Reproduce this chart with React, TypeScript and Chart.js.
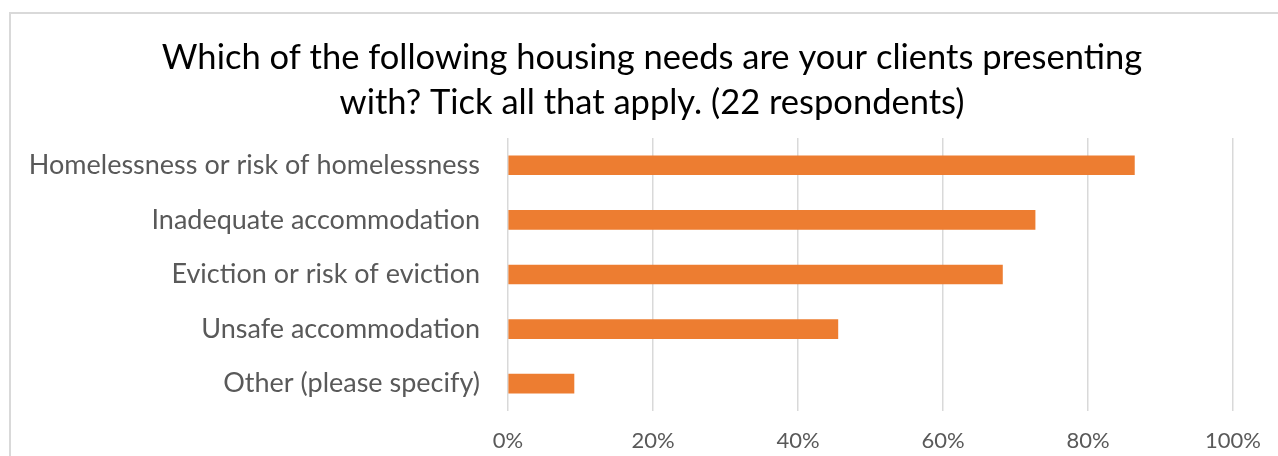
import React, { useEffect, useRef } from "react";
import { Chart, registerables } from "chart.js";

Chart.register(...registerables);

const categories: string[] = [
  "Homelessness or risk of homelessness",
  "Inadequate accommodation",
  "Eviction or risk of eviction",
  "Unsafe accommodation",
  "Other (please specify)",
];
const values: number[] = [86.4, 72.7, 68.2, 45.5, 9.1];
const titleLines: string[] = [
  "Which of the following housing needs are your clients presenting",
  "with? Tick all that apply. (22 respondents)",
];
const tickMax = 100;
const tickStep = 20;

const FONT = "Lato, 'Open Sans', sans-serif";

const titleShift = {
  id: "titleShift",
  afterLayout(chart: any) {
    const t = chart.titleBlock;
    if (t) {
      t.left = 71;
      t.width = t.right - t.left;
    }
  },
};

export default function App() {
  const ref = useRef<HTMLCanvasElement | null>(null);
  useEffect(() => {
    if (!ref.current) return;
    const chart = new Chart(ref.current, {
      type: "bar",
      data: {
        labels: categories,
        datasets: [
          {
            data: values,
            backgroundColor: "#ED7D31",
            borderWidth: 0,
            barThickness: 19,
          },
        ],
      },
      plugins: [titleShift],
      options: {
        indexAxis: "y",
        responsive: false,
        animation: false,
        layout: { padding: { left: 0, right: 45, top: 0, bottom: 1 } },
        plugins: {
          legend: { display: false },
          tooltip: { enabled: false },
          title: {
            display: true,
            text: titleLines,
            color: "#000000",
            font: { family: FONT, size: 34.5, weight: "normal", lineHeight: 1.304 },
            padding: { top: 35, bottom: 13 },
          },
        },
        scales: {
          x: {
            min: 0,
            max: tickMax,
            grid: { color: "#d9d9d9", lineWidth: 1.5, drawTicks: false },
            border: { display: false },
            ticks: {
              stepSize: tickStep,
              padding: 17,
              color: "#595959",
              font: { family: FONT, size: 22 },
              callback: (v: any) => v + "%",
            },
            afterFit: (scale: any) => {
              scale.height = 44;
            },
          },
          y: {
            grid: { display: false, drawTicks: false },
            border: { display: false },
            ticks: {
              padding: 28,
              color: "#595959",
              font: { family: FONT, size: 27 },
            },
            afterFit: (scale: any) => {
              scale.width = 508;
            },
          },
        },
      },
    });
    return () => chart.destroy();
  }, []);
  return (
    <div
      style={{
        position: "relative",
        width: 1278,
        height: 456,
        overflow: "hidden",
        background: "#ffffff",
      }}
    >
      <style>{"body{margin:0;overflow:hidden;}"}</style>
      <div
        style={{
          position: "absolute",
          left: 9,
          top: 12,
          width: 1400,
          height: 600,
          border: "2px solid #d9d9d9",
        }}
      />
      <canvas
        ref={ref}
        width={1278}
        height={456}
        style={{ position: "absolute", left: 0, top: 0 }}
      />
    </div>
  );
}
